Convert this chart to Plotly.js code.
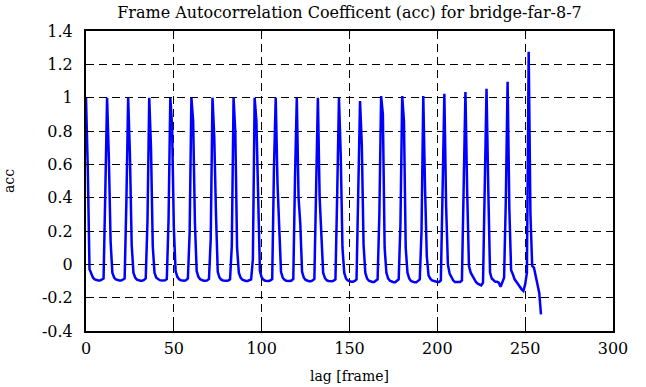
<!DOCTYPE html>
<html>
<head>
<meta charset="utf-8">
<script src="https://cdn.plot.ly/plotly-3.0.1.min.js"></script>
<style>html,body{margin:0;padding:0;background:#fff;}#chart{width:646px;height:387px;}</style>
</head>
<body>
<div id="chart"></div>
<script>
// Autocorrelation coefficient per lag (lag 0 .. 259)
const acc = [
  1.0, 0.58, -0.03, -0.06, -0.08, -0.09, -0.095, -0.097, -0.097, -0.093, -0.085, 0.44,
  1.0, 0.64, 0.14, -0.05, -0.08, -0.09, -0.095, -0.097, -0.097, -0.093, -0.085, 0.38,
  1.0, 0.66, 0.12, -0.05, -0.08, -0.092, -0.097, -0.098, -0.098, -0.094, -0.085, 0.26,
  1.0, 0.70, 0.11, -0.05, -0.08, -0.09, -0.095, -0.097, -0.097, -0.095, -0.088, 0.27,
  1.0, 0.83, 0.22, -0.04, -0.075, -0.09, -0.095, -0.098, -0.098, -0.095, -0.085, 0.19,
  1.0, 0.86, 0.25, -0.04, -0.075, -0.09, -0.096, -0.098, -0.099, -0.096, -0.087, 0.15,
  1.0, 0.77, 0.30, -0.045, -0.08, -0.092, -0.097, -0.099, -0.099, -0.097, -0.09, 0.11,
  1.0, 0.79, 0.10, -0.05, -0.08, -0.092, -0.097, -0.1, -0.1, -0.097, -0.09, 0.03,
  1.0, 0.86, 0.44, -0.04, -0.078, -0.092, -0.098, -0.1, -0.1, -0.096, -0.088, 0.58,
  1.0, 0.49, 0.19, -0.045, -0.08, -0.093, -0.098, -0.1, -0.1, -0.097, -0.088, 0.53,
  1.0, 0.40, 0.24, -0.045, -0.08, -0.093, -0.099, -0.101, -0.101, -0.097, -0.088, 0.48,
  1.0, 0.40, 0.18, -0.05, -0.082, -0.095, -0.1, -0.102, -0.102, -0.098, -0.09, 0.42,
  1.0, 0.66, 0.10, -0.05, -0.085, -0.097, -0.102, -0.104, -0.104, -0.1, -0.09, 0.36,
  0.98, 0.72, 0.12, -0.05, -0.085, -0.098, -0.104, -0.106, -0.106, -0.1, -0.09, 0.30,
  1.01, 0.90, 0.10, -0.05, -0.085, -0.098, -0.104, -0.107, -0.107, -0.1, -0.09, 0.24,
  1.01, 0.86, 0.10, -0.05, -0.085, -0.1, -0.105, -0.108, -0.108, -0.1, -0.09, 0.20,
  1.01, 0.46, 0.05, -0.066, -0.086, -0.096, -0.1, -0.106, -0.106, -0.106, -0.096, 0.45,
  1.024, 0.35, 0.0, -0.056, -0.076, -0.096, -0.106, -0.106, -0.108, -0.106, -0.096, 0.50,
  1.034, 0.43, -0.01, -0.05, -0.07, -0.09, -0.106, -0.116, -0.12, -0.126, -0.11, 0.40,
  1.054, 0.45, -0.05, -0.085, -0.095, -0.105, -0.105, -0.11, -0.135, -0.1, -0.08, 0.39,
  1.095, 0.33, -0.036, -0.06, -0.09, -0.105, -0.12, -0.14, -0.15, -0.16, -0.12, -0.05,
  1.275, 0.30, -0.01, -0.02, -0.07, -0.11, -0.17, -0.30
];
const lags = acc.map((_, i) => i);

const xTickVals = [0, 50, 100, 150, 200, 250, 300];
const xTickText = ["0", "50", "100", "150", "200", "250", "300"];
const yTickVals = [-0.4, -0.2, 0, 0.2, 0.4, 0.6, 0.8, 1, 1.2, 1.4];
const yTickText = ["-0.4", "-0.2", "0", "0.2", "0.4", "0.6", "0.8", "1", "1.2", "1.4"];

const titleText = "Frame Autocorrelation Coefficent (acc) for bridge-far-8-7";
const xTitle = "lag [frame]";
const yTitle = "acc";

const FONT = "DejaVu Serif";

const axisCommon = {
  showline: true, linecolor: "#000", linewidth: 2, mirror: "ticks",
  ticks: "inside", ticklen: 6, tickwidth: 1, tickcolor: "#000",
  showgrid: true, gridcolor: "#000", gridwidth: 1, griddash: "8px,5px",
  zeroline: false, tickmode: "array",
  tickfont: {family: FONT, size: 16, color: "#000"}
};

const trace = {
  x: lags, y: acc, type: "scatter", mode: "lines",
  line: {color: "#0000ff", width: 2.5},
  hoverinfo: "skip"
};

const layout = {
  width: 646, height: 387,
  margin: {l: 86, r: 33, t: 31, b: 56},
  paper_bgcolor: "#fff", plot_bgcolor: "#fff",
  showlegend: false,
  font: {family: FONT, color: "#000", size: 16},
  title: {text: titleText, font: {family: FONT, size: 16, color: "#000"},
          x: 0.5, xref: "paper", y: 0.968, yref: "container", yanchor: "middle"},
  xaxis: Object.assign({}, axisCommon, {
    range: [0, 300], tickvals: xTickVals, ticktext: xTickText, ticklabelstandoff: 2,
    title: {text: xTitle, font: {family: FONT, size: 14, color: "#000"}, standoff: 14}
  }),
  yaxis: Object.assign({}, axisCommon, {
    range: [-0.4, 1.4], tickvals: yTickVals, ticktext: yTickText, ticklabelstandoff: 8,
    title: {text: yTitle, font: {family: FONT, size: 14, color: "#000"}, standoff: 24}
  })
};

Plotly.newPlot("chart", [trace], layout, {staticPlot: true, displayModeBar: false});
</script>
</body>
</html>
